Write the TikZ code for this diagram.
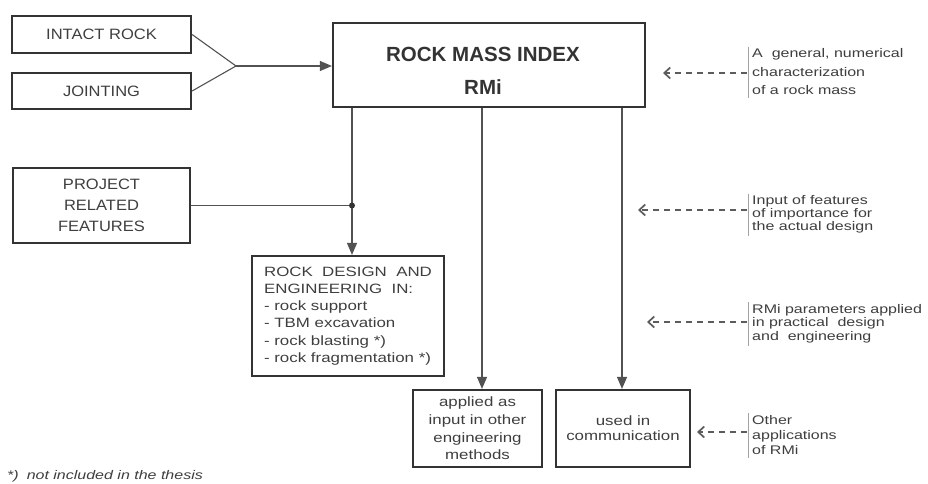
\documentclass[tikz,border=0pt]{standalone}
\usepackage{fontspec}
\setmainfont{Liberation Sans}
\newfontfamily\fA[FakeStretch=1.1]{Liberation Sans}
\newfontfamily\fB[FakeStretch=1.25]{Liberation Sans}
\newfontfamily\fC[FakeStretch=1.28]{Liberation Sans}
\usetikzlibrary{arrows.meta}
\definecolor{ink}{HTML}{333333}
\definecolor{txt}{HTML}{3E3E3E}
\begin{document}
\begin{tikzpicture}[x=1pt,y=-1pt,
  box/.style={draw=ink, line width=2.2pt, inner sep=0pt, align=center, text=txt},
  conn/.style={draw=ink!85, line width=1.1pt},
  arr/.style={conn, -{Triangle[length=12pt,width=10pt]}},
  dsh/.style={draw=ink!80, line width=1.1pt, dash pattern=on 6pt off 5pt,
    -{Straight Barb[length=6pt,width=11pt,line width=1.7pt]}},
  ann/.style={inner sep=0pt, align=left, text=txt, anchor=west},
  bar/.style={draw=ink!45, line width=0.6pt},
  btxt/.style={font=\fA\fontsize{15}{21}\selectfont}
]
\useasboundingbox (0,0) rectangle (928,484);

% left input boxes
\node[box, btxt, minimum width=179pt, minimum height=37pt] (intact) at (101.5,34.5) {INTACT ROCK};
\node[box, btxt, minimum width=179pt, minimum height=36pt] (joint) at (101.5,91) {JOINTING};
\node[box, btxt, minimum width=177pt, minimum height=75pt] (project) at (101.5,205.5) {PROJECT\\RELATED\\FEATURES};

% main box
\node[box, minimum width=312pt, minimum height=84pt] (rmi) at (489,65) {};
\node[anchor=base, text=ink, inner sep=0pt, font=\bfseries\fontsize{20.5}{24}\selectfont] (title) at (483,62) {ROCK MASS INDEX};
\node[anchor=base, text=ink, inner sep=0pt, font=\bfseries\fontsize{20.5}{24}\selectfont] (rmilbl) at (483,95) {RMi};

% lower boxes
\node[box, align=left, minimum width=192pt, minimum height=120pt, font=\fB\fontsize{13.5}{17.2}\selectfont] (design) at (348,316)
  {ROCK\ \ DESIGN\ \ AND\\ENGINEERING\ \ IN:\\- rock support\\- TBM excavation\\- rock blasting *)\\- rock fragmentation *)};
\node[box, minimum width=129pt, minimum height=77pt, font=\fB\fontsize{13.5}{17.7}\selectfont] (applied) at (477.5,428.5)
  {applied as\\input in other\\engineering\\methods};
\node[box, minimum width=134pt, minimum height=77pt, font=\fB\fontsize{13.5}{15}\selectfont] (comm) at (623,428.5)
  {used in\\communication};

% connectors
\coordinate (J) at (236,66);
\draw[conn] (intact.east) -- (J);
\draw[conn] (joint.east) -- (J);
\draw[arr] (J) -- (J -| rmi.west);

\coordinate (c1) at (352,0);
\coordinate (c2) at (482,0);
\coordinate (c3) at (622,0);
\draw[arr] (rmi.south -| c1) -- (design.north -| c1);
\draw[arr] (rmi.south -| c2) -- (applied.north -| c2);
\draw[arr] (rmi.south -| c3) -- (comm.north -| c3);
\coordinate (dot) at (project.east -| c1);
\draw[conn] (project.east) -- (dot);
\fill[ink] (dot) circle (3pt);

% annotations
\node[ann, font=\fC\fontsize{12.5}{18.5}\selectfont] (ann1) at (752,72)
  {A\ \ general, numerical\\characterization\\of a rock mass};
\node[ann, font=\fC\fontsize{12.5}{12.8}\selectfont] (ann2) at (752,214.5)
  {Input of features\\of importance for\\the actual design};
\node[ann, font=\fC\fontsize{12.5}{13.5}\selectfont] (ann3) at (752,323.5)
  {RMi parameters applied\\in practical\ \ design\\and\ \ engineering};
\node[ann, font=\fC\fontsize{12.5}{15}\selectfont] (ann4) at (752,435)
  {Other\\applications\\of RMi};

\foreach \a in {ann1,ann2,ann3,ann4}
  \draw[bar] ([xshift=-4pt,yshift=2pt]\a.north west) -- ([xshift=-4pt,yshift=-3pt]\a.south west);

\coordinate (t1) at (663,73);
\coordinate (t2) at (638,210);
\coordinate (t3) at (647,322);
\coordinate (t4) at (697,432);
\draw[dsh] ([xshift=-5pt]ann1.west |- t1) -- (t1);
\draw[dsh] ([xshift=-5pt]ann2.west |- t2) -- (t2);
\draw[dsh] ([xshift=-5pt]ann3.west |- t3) -- (t3);
\draw[dsh] ([xshift=-5pt]ann4.west |- t4) -- (t4);

% footnote
\node[anchor=base west, inner sep=0pt, text=txt, font=\fC\itshape\fontsize{12.5}{15}\selectfont] (foot) at (7,479)
  {*)\hspace{8pt}not included in the thesis};
\end{tikzpicture}
\end{document}
